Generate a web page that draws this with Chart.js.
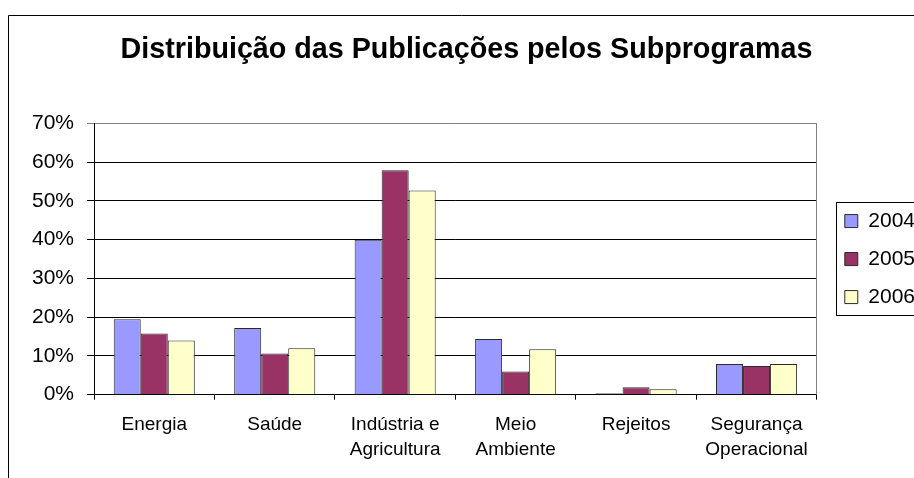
<!DOCTYPE html>
<html>
<head>
<meta charset="utf-8">
<script src="https://cdn.jsdelivr.net/npm/chart.js@4"></script>
<style>
  html, body { margin: 0; padding: 0; background: #fff; overflow: hidden; }
  canvas { display: block; }
</style>
</head>
<body>
<canvas id="chart" width="914" height="478"></canvas>
<script>
// Data (percent of publications)
const categories = ['Energia', 'Saúde', ['Indústria e', 'Agricultura'], ['Meio', 'Ambiente'], 'Rejeitos', ['Segurança', 'Operacional']];
const years = ['2004', '2005', '2006'];
const values2004 = [19.5, 17.2, 40.0, 14.4, 0.4, 7.9];
const values2005 = [15.8, 10.6, 57.9, 6.0, 1.9, 7.4];
const values2006 = [14.0, 12.0, 52.7, 11.7, 1.4, 7.9];
const yTicks = [0, 10, 20, 30, 40, 50, 60, 70];

const FONT = 'Arial, "Liberation Sans", sans-serif';

// outer frame, plot border on the right, box around the legend
const framePlugin = {
  id: 'frame',
  afterLayout(chart) {
    // legend sits a bit away from the plot area
    chart.legend.left += 11;
    chart.legend.right += 11;
  },
  beforeDraw(chart) {
    const ctx = chart.ctx;
    ctx.save();
    ctx.fillStyle = '#fff';
    ctx.fillRect(0, 0, chart.width, chart.height);
    ctx.strokeStyle = '#000';
    ctx.lineWidth = 1;
    ctx.beginPath();
    ctx.moveTo(8.5, chart.height + 5);
    ctx.lineTo(8.5, 15.5);
    ctx.lineTo(chart.width + 5, 15.5);
    ctx.stroke();
    ctx.restore();
  },
  beforeDatasetsDraw(chart) {
    const ctx = chart.ctx;
    const a = chart.chartArea;
    ctx.save();
    ctx.strokeStyle = '#808080';
    ctx.lineWidth = 1;
    ctx.beginPath();
    ctx.moveTo(Math.round(a.right) - 0.5, a.top);
    ctx.lineTo(Math.round(a.right) - 0.5, a.bottom);
    ctx.stroke();
    ctx.restore();
  },
  afterDraw(chart) {
    const lg = chart.legend;
    const boxes = lg.legendHitBoxes;
    if (!boxes || !boxes.length) return;
    const first = boxes[0];
    const last = boxes[boxes.length - 1];
    const ctx = chart.ctx;
    const left = Math.round(first.left - 9) + 0.5;
    const top = Math.round(first.top - 9) + 0.5;
    const bottom = Math.round(last.top + last.height + 7) + 0.5;
    ctx.save();
    ctx.strokeStyle = '#000';
    ctx.lineWidth = 1;
    ctx.strokeRect(left, top, chart.width + 20 - left, bottom - top);
    ctx.restore();
  }
};

const ctx = document.getElementById('chart').getContext('2d');

new Chart(ctx, {
  type: 'bar',
  data: {
    labels: categories,
    datasets: [
      { label: years[0], data: values2004, backgroundColor: '#9999FF' },
      { label: years[1], data: values2005, backgroundColor: '#993366' },
      { label: years[2], data: values2006, backgroundColor: '#FFFFCC' }
    ].map(d => Object.assign(d, {
      borderColor: '#2a2a2a',
      borderWidth: 1,
      categoryPercentage: 0.673,
      barPercentage: 1.0
    }))
  },
  options: {
    responsive: false,
    animation: false,
    layout: { padding: { top: 15, left: 19, right: 0, bottom: 3 } },
    plugins: {
      title: {
        display: true,
        text: 'Distribuição das Publicações pelos Subprogramas',
        color: '#000',
        font: { family: FONT, size: 28.7, weight: 'bold', lineHeight: 1.2 },
        padding: { top: 18, bottom: 56 }
      },
      legend: {
        position: 'right',
        fullSize: false,
        labels: {
          color: '#000',
          font: { family: FONT, size: 21 },
          boxWidth: 13,
          boxHeight: 13,
          padding: 17
        }
      },
      tooltip: { enabled: false }
    },
    scales: {
      x: {
        grid: {
          offset: true,
          drawOnChartArea: false,
          drawTicks: true,
          tickLength: 5,
          color: '#000'
        },
        border: { color: '#000', width: 1 },
        ticks: {
          color: '#000',
          font: { family: FONT, size: 19, lineHeight: 1.35 },
          padding: 12,
          maxRotation: 0,
          autoSkip: false
        }
      },
      y: {
        min: yTicks[0],
        max: yTicks[yTicks.length - 1],
        afterBuildTicks(scale) {
          scale.ticks = yTicks.map(v => ({ value: v }));
        },
        grid: {
          color: c => (c.tick && c.tick.value === 70 ? '#808080' : '#000'),
          tickLength: 7,
          lineWidth: 1
        },
        border: { color: '#000', width: 1 },
        ticks: {
          color: '#000',
          font: { family: FONT, size: 21 },
          padding: 13,
          callback: v => v + '%'
        }
      }
    }
  },
  plugins: [framePlugin]
});
</script>
</body>
</html>
